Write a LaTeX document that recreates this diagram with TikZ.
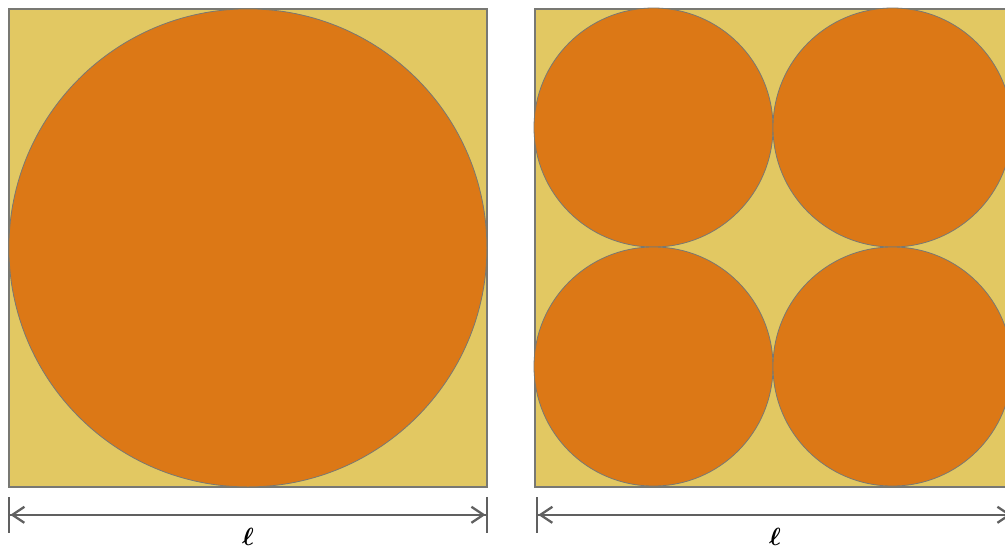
\documentclass[tikz,border=0pt]{standalone}
\usepackage{bm}
\usetikzlibrary{arrows.meta, calc}
\definecolor{sandfill}{RGB}{226,200,98}
\definecolor{discfill}{RGB}{220,120,22}
\definecolor{edgegray}{RGB}{120,120,115}

\begin{document}
\begin{tikzpicture}[
  x = 1pt, y = -1pt,
  cell/.style = {rectangle, draw=edgegray, line width=1.8pt, fill=sandfill,
                 minimum size=478pt, inner sep=0pt, anchor=north west},
  disc/.style = {circle, draw=edgegray, line width=0.8pt, fill=discfill, inner sep=0pt},
  dim/.style  = {{Bar[width=36pt]Straight Barb[length=12pt,width=16pt]}-{Straight Barb[length=12pt,width=16pt]Bar[width=36pt]},
                 line width=2.3pt, gray!75!black},
  len/.style  = {font=\fontsize{44}{50}\selectfont}
]
\useasboundingbox (0,0) rectangle (1005,552);
% one large disc
\node[cell] (left) at (8,8) {};
\node[disc, minimum size=478pt] (big) at (left.center) {};
% four small discs
\node[cell] (right) at (534,8) {};
\node[disc, minimum size=239pt] (c1) at ($(right.north west)+(119.5,119.5)$) {};
\node[disc, minimum size=239pt] (c2) at ($(right.north west)+(358.5,119.5)$) {};
\node[disc, minimum size=239pt] (c3) at ($(right.north west)+(119.5,358.5)$) {};
\node[disc, minimum size=239pt] (c4) at ($(right.north west)+(358.5,358.5)$) {};
% side lengths
\coordinate (la) at ([yshift=-27pt]left.south west);
\coordinate (lb) at ([yshift=-27pt]left.south east);
\coordinate (ra) at ([yshift=-27pt,xshift=2pt]right.south west);
\coordinate (rb) at ([yshift=-27pt]right.south east);
\draw[dim] (la) -- (lb);
\draw[dim] (ra) -- (rb);
\node[len] (lenl) at ($(la)!0.5!(lb)+(0,22)$) {$\bm{\ell}$};
\node[len] (lenr) at ($(ra)!0.5!(rb)+(0,22)$) {$\bm{\ell}$};
\end{tikzpicture}
\end{document}
